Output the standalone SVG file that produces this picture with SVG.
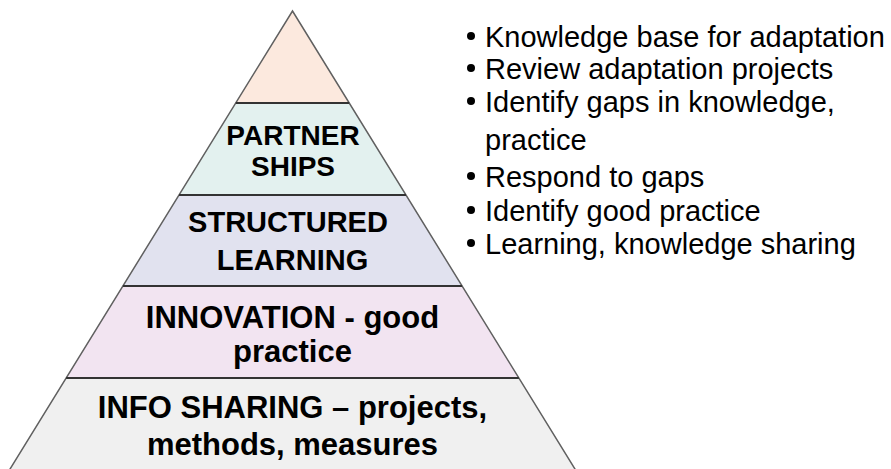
<svg xmlns="http://www.w3.org/2000/svg" width="891" height="469" viewBox="0 0 891 469">
  <style>
    .band { stroke: none; }
    .edge { fill: none; stroke: #606060; stroke-width: 1.5; }
    .divider { stroke: #333333; stroke-width: 2; }
    .label { font-family: "Liberation Sans", Arial, sans-serif; font-weight: bold; fill: #000000; text-anchor: middle; }
    .item { font-family: "Liberation Sans", Arial, sans-serif; font-size: 29px; fill: #000000; }
    .dot { fill: #000000; }
  </style>

  <rect width="891" height="469" fill="#ffffff"/>

  <!-- pyramid tiers, top to bottom -->
  <g id="tier-apex">
    <polygon class="band" points="292.5,11 349.2,103 235.8,103" fill="#fce9de"/>
  </g>
  <g id="tier-partnerships">
    <polygon class="band" points="235.8,103 349.2,103 406,195 179,195" fill="#e3f1ef"/>
    <text class="label" x="293" y="145" font-size="28">PARTNER</text>
    <text class="label" x="293" y="176" font-size="28">SHIPS</text>
  </g>
  <g id="tier-structured-learning">
    <polygon class="band" points="179,195 406,195 462.1,286 122.9,286" fill="#e1e2ef"/>
    <text class="label" x="288" y="232" font-size="29">STRUCTURED</text>
    <text class="label" x="292.5" y="270" font-size="29">LEARNING</text>
  </g>
  <g id="tier-innovation">
    <polygon class="band" points="122.9,286 462.1,286 518.9,378 66.1,378" fill="#f2e4f1"/>
    <text class="label" x="292.5" y="328" font-size="31">INNOVATION - good</text>
    <text class="label" x="292.5" y="362" font-size="31">practice</text>
  </g>
  <g id="tier-info-sharing">
    <polygon class="band" points="66.1,378 518.9,378 576.8,472 8.2,472" fill="#f0f0f0"/>
    <text class="label" x="292.5" y="418" font-size="31">INFO SHARING – projects,</text>
    <text class="label" x="292.5" y="455" font-size="31">methods, measures</text>
  </g>

  <!-- outline and tier dividers -->
  <g id="outline">
    <polyline class="edge" points="8.2,472 292.5,11 576.8,472"/>
    <line class="divider" x1="235.8" y1="103" x2="349.2" y2="103"/>
    <line class="divider" x1="179" y1="195" x2="406" y2="195"/>
    <line class="divider" x1="122.9" y1="286" x2="462.1" y2="286"/>
    <line class="divider" x1="66.1" y1="378" x2="518.9" y2="378"/>
  </g>

  <!-- bullet list of activities -->
  <g id="activities">
    <circle class="dot" cx="471" cy="36" r="4"/>
    <text class="item" x="485" y="47">Knowledge base for adaptation</text>
    <circle class="dot" cx="471" cy="68" r="4"/>
    <text class="item" x="485" y="79">Review adaptation projects</text>
    <circle class="dot" cx="471" cy="101" r="4"/>
    <text class="item" x="485" y="112">Identify gaps in knowledge,</text>
    <text class="item" x="485" y="150">practice</text>
    <circle class="dot" cx="471" cy="176" r="4"/>
    <text class="item" x="485" y="187">Respond to gaps</text>
    <circle class="dot" cx="471" cy="210" r="4"/>
    <text class="item" x="485" y="221">Identify good practice</text>
    <circle class="dot" cx="471" cy="243" r="4"/>
    <text class="item" x="485" y="254">Learning, knowledge sharing</text>
  </g>
</svg>
